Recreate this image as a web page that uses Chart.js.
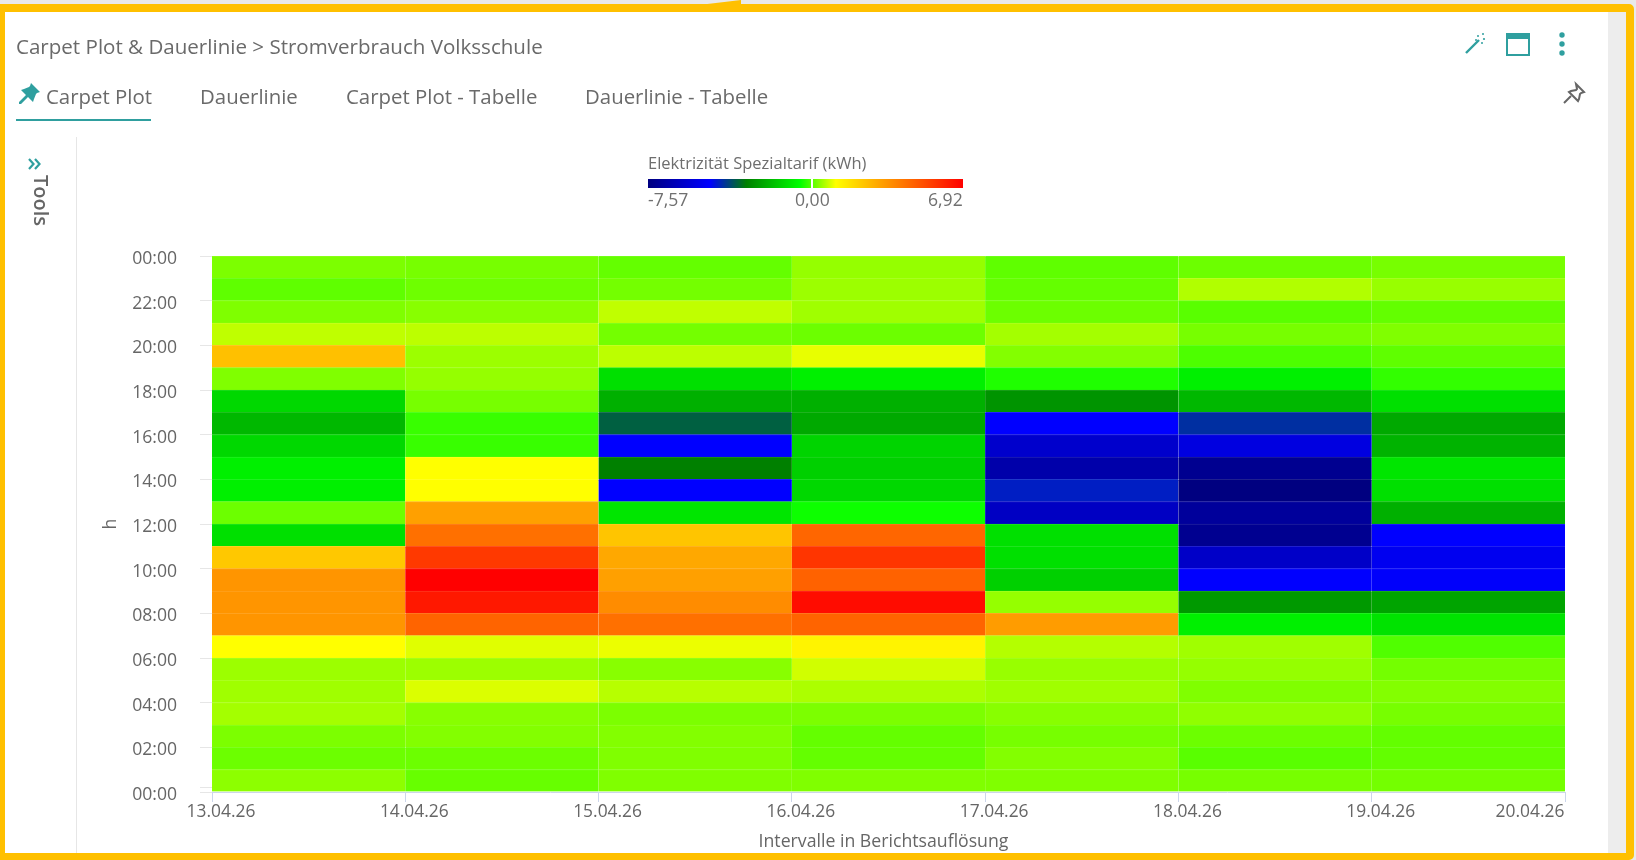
<!DOCTYPE html>
<html lang="de">
<head>
<meta charset="utf-8">
<title>Carpet Plot</title>
<script src="https://cdn.jsdelivr.net/npm/chart.js@4"></script>
<style>
html,body{margin:0;padding:0;width:1636px;height:860px;overflow:hidden;background:#e9e9e9;font-family:"Open Sans",sans-serif;color:#666}
#frame{position:absolute;left:0;top:4px;width:1634px;height:856px;box-sizing:border-box;border:solid #ffc000;border-width:8px 8px 7px 5px;border-radius:0 5px 5px 0;background:#fff}
#notch{position:absolute;left:699px;top:0;width:42px;height:5px;background:#ffc000;clip-path:polygon(0 100%,100% 0,100% 100%)}
#strip{position:absolute;left:1608px;top:12px;width:18px;height:841px;background:#ededed}
#divider{position:absolute;left:76px;top:137px;width:1px;height:716px;background:#e6e6e6}
canvas{position:absolute;left:0;top:0}
.t{position:absolute;white-space:nowrap;line-height:1}
#title{left:16px;top:36px;font-size:20.55px;color:#6a6a6a}
.tab{top:86px;font-size:20.4px;color:#6a6a6a}
#underline{position:absolute;left:16px;top:119px;width:135px;height:2px;background:#2f9f9f}
#tools{position:absolute;left:28px;top:175px;font-size:20px;font-weight:600;color:#666;transform-origin:0 0;transform:translate(23px,0) rotate(90deg);white-space:nowrap;line-height:1}
#legTitle{left:648px;top:155px;font-size:16.5px;color:#6e6e6e}
#legBar{position:absolute;left:648px;top:179px;width:315px;height:9px}
#legZero{position:absolute;left:811px;top:179px;width:2px;height:9px;background:#fff}
.leg{top:191px;font-size:17.6px;color:#707070}
svg{position:absolute;overflow:visible}
</style>
</head>
<body>
<div id="frame"></div>
<div id="notch"></div>
<div id="strip"></div>
<div id="divider"></div>
<canvas id="c" width="1636" height="860"></canvas>

<div class="t" id="title">Carpet Plot &amp; Dauerlinie &gt; Stromverbrauch Volksschule</div>
<div class="t tab" style="left:46px">Carpet Plot</div>
<div class="t tab" style="left:200px">Dauerlinie</div>
<div class="t tab" style="left:346px">Carpet Plot - Tabelle</div>
<div class="t tab" style="left:585px">Dauerlinie - Tabelle</div>
<div id="underline"></div>
<div id="tools">Tools</div>

<div class="t" id="legTitle">Elektrizität Spezialtarif (kWh)</div>
<div id="legBar"></div>
<div id="legZero"></div>
<div class="t leg" style="left:648px">-7,57</div>
<div class="t leg" style="left:795px">0,00</div>
<div class="t leg" style="left:928px">6,92</div>

<!-- filled pin -->
<svg style="left:16px;top:82px" width="26" height="24" viewBox="0 0 26 24"><path fill="#2f9f9f" d="M15 1l9 9-3 1-1 1-2 5-1 3-5-5-7 7-2 0 0-2 7-7-5-5 3-1 5-2 1-1z"/></svg>
<!-- outline pin -->
<svg style="left:1562px;top:82px" width="24" height="24" viewBox="0 0 24 24"><path fill="none" stroke="#666" stroke-width="2" d="M14 2l8 8-3 1-1 1-1 5-1 2-9-9 2-1 5-1 1-1zM9 14l-7 7"/></svg>
<!-- wand -->
<svg style="left:1464px;top:32px" width="24" height="24" viewBox="0 0 24 24"><path stroke="#2f9f9f" stroke-width="2.4" d="M2 21L15 8"/><g fill="#2f9f9f"><circle cx="14" cy="4" r="1"/><circle cx="19" cy="2" r="1"/><circle cx="12" cy="8" r="1"/><circle cx="20" cy="7" r="1.1"/><circle cx="18" cy="11" r="1"/></g></svg>
<!-- window -->
<svg style="left:1506px;top:33px" width="24" height="23" viewBox="0 0 24 23"><rect x="1" y="1" width="22" height="21" fill="none" stroke="#2f9f9f" stroke-width="2"/><rect x="1" y="1" width="22" height="5" fill="#2f9f9f"/></svg>
<!-- dots -->
<svg style="left:1556px;top:32px" width="12" height="24" viewBox="0 0 12 24"><g fill="#2f9f9f"><circle cx="6" cy="3" r="2.7"/><circle cx="6" cy="12" r="2.7"/><circle cx="6" cy="21" r="2.7"/></g></svg>
<!-- chevrons -->
<svg style="left:28px;top:158px" width="14" height="12" viewBox="0 0 14 12"><path fill="none" stroke="#2f9f9f" stroke-width="2.2" d="M1 1l4.5 5-4.5 5M7 1l4.5 5-4.5 5"/></svg>

<script>
// Day tick labels (boundaries of the seven columns)
const dayLabels = ['13.04.26','14.04.26','15.04.26','16.04.26','17.04.26','18.04.26','19.04.26','20.04.26'];
// Hour tick labels, bottom to top, every two hours
const hourLabels = ['00:00','02:00','04:00','06:00','08:00','10:00','12:00','14:00','16:00','18:00','20:00','22:00','00:00'];

// kWh per hour, each list reads from the top row (23:00) down to the bottom row (00:00)
const apr13 = [0.29,0.11,0.31,0.72,2.50,0.32,-1.27,-1.90,-1.27,-0.80,-0.80,0.19,-1.11,2.33,3.47,3.47,3.47,1.13,0.50,0.52,0.55,0.29,0.19,0.40];
const apr14 = [0.26,0.20,0.37,0.70,0.50,0.45,0.26,-0.14,-0.14,1.13,1.13,3.22,4.33,5.60,6.92,6.36,4.60,0.93,0.50,0.90,0.37,0.34,0.19,0.16];
const apr15 = [0.14,0.24,0.73,0.24,0.70,-1.11,-2.06,-3.43,-4.70,-3.00,-4.70,-1.00,2.40,3.03,3.22,3.68,4.33,1.01,0.37,0.67,0.29,0.34,0.32,0.32];
const apr16 = [0.45,0.50,0.52,0.19,0.98,-0.80,-2.06,-2.20,-1.35,-1.43,-1.27,-0.42,4.55,5.70,4.65,6.64,4.60,1.37,0.83,0.60,0.29,0.14,0.14,0.32];
const apr17 = [0.11,0.14,0.19,0.55,0.34,-0.30,-2.60,-4.70,-5.85,-6.62,-4.30,-6.05,-1.11,-1.11,-1.43,0.45,3.30,0.65,0.47,0.52,0.37,0.26,0.34,0.32];
const apr18 = [0.19,0.63,0.07,0.26,-0.01,-0.80,-1.90,-4.07,-5.40,-7.20,-7.57,-6.95,-7.20,-5.95,-4.70,-2.50,-0.80,0.52,0.45,0.32,0.42,0.19,0.07,0.26];
const apr19 = [0.26,0.47,0.13,0.32,0.11,-0.18,-1.11,-2.20,-2.00,-1.00,-1.11,-2.06,-4.70,-5.04,-4.80,-2.30,-1.05,0.01,0.24,0.34,0.26,0.13,0.13,0.24];
const dayValues = [apr13,apr14,apr15,apr16,apr17,apr18,apr19];

// Colour axis
const stopValues = [-7.57,-4.7,-3.0,-0.5,1.13,3.1,6.92];
const stopColors = [[0,0,128],[0,0,255],[0,128,0],[0,255,0],[255,255,0],[255,165,0],[255,0,0]];

function colorOf(v){
  let i = 0;
  while(i < stopValues.length-2 && v > stopValues[i+1]) i++;
  const t = Math.max(0,Math.min(1,(v-stopValues[i])/(stopValues[i+1]-stopValues[i])));
  return stopColors[i].map((c,k)=>Math.round(c+(stopColors[i+1][k]-c)*t));
}
const css = c => 'rgb('+c.join(',')+')';
const lighter = c => css(c.map(x=>Math.round(x+(255-x)*0.12)));

// Legend gradient: negative and positive halves have their own scale around zero
(function(){
  const minV = stopValues[0], maxV = stopValues[stopValues.length-1];
  const pos = v => v<0 ? (v-minV)/(-minV)*163/315*100 : (163+v/maxV*152)/315*100;
  const parts = stopValues.map((v,i)=>css(stopColors[i])+' '+pos(v).toFixed(2)+'%');
  document.getElementById('legBar').style.background='linear-gradient(to right,'+parts.join(',')+')';
})();

const cells = [];
dayValues.forEach((col,d)=>col.forEach((v,i)=>{
  const hour = 23-i;
  cells.push({x:d+0.5,y:[hour,hour+1],v:v});
}));

// The right-most date label is kept inside the plot edge; the axis title sits left of the plot centre
const axisTweaks = {
  id:'axisTweaks',
  beforeDraw(chart){
    const s = chart.scales.x;
    const items = s.getLabelItems();
    const last = items[items.length-1];
    if(last && !last.moved){ last.options.translation[0] -= 44; last.moved = true; }
    if(!s.titleMoved){
      const orig = s.drawTitle;
      s.drawTitle = function(){
        this.ctx.save();
        this.ctx.translate(-5,1);
        orig.call(this);
        this.ctx.restore();
      };
      s.titleMoved = true;
    }
  }
};

new Chart(document.getElementById('c'),{
  type:'bar',
  plugins:[axisTweaks],
  data:{datasets:[{
    data:cells,
    barPercentage:1,
    categoryPercentage:1,
    borderSkipped:false,
    borderWidth:{top:1,left:0,right:0,bottom:0},
    backgroundColor:ctx=>css(colorOf(ctx.raw.v)),
    borderColor:ctx=>lighter(colorOf(ctx.raw.v))
  }]},
  options:{
    responsive:false,
    animation:false,
    events:[],
    layout:{padding:{left:100,top:256,right:71,bottom:8}},
    plugins:{legend:{display:false},tooltip:{enabled:false},title:{display:false}},
    scales:{
      x:{
        type:'linear',min:0,max:7,offset:false,
        afterFit(s){s.height=60;},
        grid:{offset:false,drawOnChartArea:false,color:'#ccd6eb',tickColor:'#ccd6eb',tickLength:10},
        border:{color:'#ccd6eb'},
        ticks:{stepSize:1,autoSkip:false,maxRotation:0,labelOffset:9,padding:0,color:'#666',font:{family:'"Open Sans"',size:17.4},callback:v=>dayLabels[v]},
        title:{display:true,text:'Intervalle in Berichtsauflösung',color:'#666',font:{family:'"Open Sans"',size:17.7},padding:{top:0,bottom:0}}
      },
      y:{
        type:'linear',min:0,max:24,
        afterFit(s){s.width=112;},
        afterBuildTicks(s){s.ticks.push({value:0.2});},
        grid:{drawOnChartArea:false,color:'#e6e6e6',tickColor:'#e6e6e6',tickLength:12},
        border:{display:false},
        ticks:{stepSize:2,autoSkip:false,padding:23,labelOffset:3,color:'#666',font:{family:'"Open Sans"',size:17.6},callback:v=>Number.isInteger(v)?hourLabels[v/2]:''},
        title:{display:true,text:'h',color:'#666',font:{family:'"Open Sans"',size:17.6},padding:{top:0,bottom:0}}
      }
    }
  }
});
</script>
</body>
</html>
